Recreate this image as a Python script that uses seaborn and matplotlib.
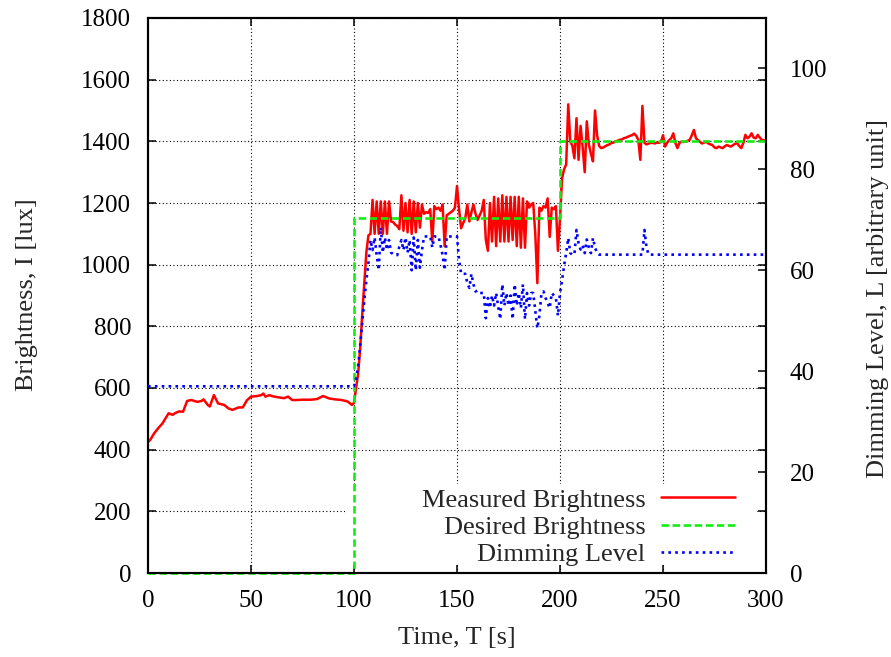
import matplotlib
matplotlib.use("Agg")
import matplotlib.pyplot as plt
from matplotlib.patches import Rectangle
import numpy as np
import pandas as pd
import seaborn as sns

# ---- measured brightness [lux] ----
t_meas_start = [0, 1, 3, 5, 7, 9, 10, 12, 13, 15, 17, 19, 21, 24, 26, 27, 29, 30,
                32, 34, 37, 39, 41, 44, 46, 48, 50, 53, 55, 56, 57, 59, 60, 63,
                66, 68, 70, 72, 75, 79, 82, 85, 88, 91, 94, 97, 99, 100]
meas_start = [425, 431, 453, 470, 485, 507, 518, 513, 518, 524, 523, 558, 561, 555,
              558, 563, 545, 540, 577, 550, 545, 534, 529, 537, 537, 560, 572, 574,
              577, 582, 572, 577, 574, 570, 567, 572, 561, 561, 562, 562, 564, 574,
              566, 563, 561, 556, 545, 552]
t_meas_ctrl = list(range(101, 301))
meas_ctrl = [
    600, 645, 730, 840, 940, 1040, 1095, 1100, 1210, 1100,
    1205, 1100, 1205, 1100, 1205, 1100, 1205, 1140, 1138, 1130,
    1125, 1115, 1225, 1110, 1200, 1105, 1210, 1100, 1205, 1105,
    1200, 1120, 1195, 1165, 1170, 1168, 1180, 1075, 1190, 1180,
    1185, 1175, 1195, 1060, 1160, 1165, 1170, 1175, 1185, 1255,
    1180, 1118, 1135, 1150, 1195, 1140, 1170, 1195, 1165, 1145,
    1160, 1175, 1210, 1080, 1045, 1200, 1075, 1220, 1060, 1215,
    1075, 1225, 1075, 1220, 1075, 1220, 1080, 1220, 1060, 1220,
    1055, 1215, 1055, 1205, 1185, 1195, 1200, 1100, 940, 1185,
    1175, 1190, 1185, 1215, 1090, 1185, 1180, 1190, 1045, 1150,
    1280, 1310, 1325, 1520, 1400, 1385, 1345, 1475, 1340, 1450,
    1380, 1300, 1465, 1390, 1360, 1335, 1500, 1420, 1385, 1378,
    1380, 1384, 1388, 1390, 1395, 1396, 1400, 1402, 1405, 1406,
    1410, 1412, 1415, 1418, 1420, 1425, 1418, 1405, 1340, 1515,
    1395, 1390, 1393, 1395, 1395, 1393, 1396, 1395, 1398, 1420,
    1383, 1395, 1404, 1410, 1426, 1395, 1378, 1395, 1399, 1398,
    1399, 1402, 1405, 1420, 1437, 1410, 1404, 1398, 1393, 1396,
    1399, 1393, 1390, 1388, 1380, 1378, 1383, 1380, 1378, 1384,
    1388, 1385, 1383, 1388, 1392, 1394, 1385, 1378, 1395, 1421,
    1410, 1415, 1426, 1412, 1410, 1421, 1412, 1404, 1404, 1400,
]
t_meas = t_meas_start + t_meas_ctrl
meas = meas_start + meas_ctrl

# ---- desired brightness set point [lux] ----
t_des = [0, 100, 100, 200, 200, 300]
des = [0, 0, 1150, 1150, 1400, 1400]

# ---- dimming level [arbitrary unit] ----
t_dim = [0, 100] + list(range(101, 220)) + [240, 241, 242, 243, 300]
dim = [
    37, 37,
    38.5, 41, 45, 49.6, 54, 58, 61.5, 66, 64, 66.5,
    63, 60, 68.5, 63.5, 66.5, 64, 66, 63.5, 63.2, 63.2,
    63.0, 64.7, 66, 64, 66.5, 63.5, 66, 60, 66.5, 60,
    66, 60.5, 64, 66.7, 66.7, 66.7, 66.7, 64.5, 66.7, 66.7,
    66.7, 65, 63, 60, 66.7, 66.7, 66.7, 66.7, 66.7, 66.7,
    62, 59.3, 59.3, 59.3, 57.5, 56.5, 59.3, 57.2, 55.8, 56,
    55.5, 55.5, 55.5, 50.5, 54.5, 52.5, 55, 53, 55.5, 52.8,
    50.3, 57.2, 53, 55.5, 53, 55, 50.3, 57.2, 53, 55.5,
    52.5, 57.2, 50.3, 55.5, 53, 55.5, 55.5, 52, 48.5, 51,
    55.5, 55.8, 54.5, 53.5, 52.5, 55.5, 55, 54.5, 51, 55.5,
    58, 61, 63.4, 66.4, 63.4, 63.1, 63.1, 68, 65.4, 64.1,
    64.9, 63.4, 66.1, 64.5, 63.4, 66.4, 64.5, 63.4, 63.1,
    63.1, 68, 64.5, 63.1, 63.1,
]

x_ticks = [0, 50, 100, 150, 200, 250, 300]
y_ticks = [0, 200, 400, 600, 800, 1000, 1200, 1400, 1600, 1800]
y2_ticks = [0, 20, 40, 60, 80, 100]

series_names = ["Measured Brightness", "Desired Brightness", "Dimming Level"]

df_meas = pd.DataFrame({"t": t_meas, "v": meas})
df_des = pd.DataFrame({"t": t_des, "v": des})
df_dim = pd.DataFrame({"t": t_dim, "v": dim})

sns.set_theme(style="white")
plt.rcParams["font.family"] = ["Liberation Serif", "DejaVu Serif"]
plt.rcParams["axes.edgecolor"] = "black"
plt.rcParams["axes.linewidth"] = 1.5

W, H = 891, 657
fig = plt.figure(figsize=(W / 100, H / 100), dpi=100)
fig.patch.set_facecolor("white")
ax = fig.add_axes([148 / W, 1 - 573 / H, (766 - 148) / W, (573 - 18) / H])
ax2 = ax.twinx()
ax.set_zorder(1)
ax2.set_zorder(2)
ax.patch.set_facecolor("white")
ax2.patch.set_visible(False)

sns.lineplot(data=df_meas, x="t", y="v", ax=ax, color="#ff0000", lw=1.8,
             estimator=None, sort=False, label=series_names[0], zorder=3)
sns.lineplot(data=df_des, x="t", y="v", ax=ax, color="#11ee11", lw=1.9,
             estimator=None, sort=False, label=series_names[1], zorder=4,
             clip_on=False)
ax.lines[-1].set_dashes((2.8, 1.4))
sns.lineplot(data=df_dim, x="t", y="v", ax=ax2, color="#0000ff", lw=1.9,
             estimator=None, sort=False, label=series_names[2], zorder=3)
ax2.lines[-1].set_dashes((1.0, 1.6))
for a in (ax, ax2):
    if a.get_legend() is not None:
        a.get_legend().remove()

ax.set_xlim(0, 300)
ax.set_ylim(0, 1800)
ax2.set_ylim(0, 110)
ax.set_xticks(x_ticks)
ax.set_yticks(y_ticks)
ax2.set_yticks(y2_ticks)
ax.set_xticklabels([str(v) for v in x_ticks])
ax.set_yticklabels([str(v) for v in y_ticks])
ax2.set_yticklabels([str(v) for v in y2_ticks])

ax.grid(True, color="black", lw=0.8, linestyle=(0, (1, 2.2)))
ax.set_axisbelow(True)

tick_len = 6
ax.tick_params(axis="both", direction="in", length=tick_len, width=1.1,
               colors="black", labelsize=18, top=True, right=True,
               bottom=True, left=True)
ax.tick_params(axis="y", pad=12)
ax.tick_params(axis="x", pad=12)
ax2.tick_params(axis="y", direction="in", length=tick_len, width=1.1,
                colors="black", labelsize=18, right=True, left=False, pad=17)
for s in ax2.spines.values():
    s.set_linewidth(1.5)
    s.set_color("black")

ax.set_xlabel("Time, T [s]", fontsize=19)
ax.set_ylabel("Brightness, I [lux]", fontsize=19)
ax2.set_ylabel("Dimming Level, L [arbitrary unit]", fontsize=19)
ax.xaxis.set_label_coords((457 - 148) / 618, (573 - 638) / 555)
ax.xaxis.label.set_va("center")
ax.yaxis.set_label_coords((27 - 148) / 618, (573 - 295) / 555)
ax.yaxis.label.set_va("center")
ax2.yaxis.set_label_coords((878 - 148) / 618, (573 - 298) / 555)
ax2.yaxis.label.set_va("center")

# white backdrop under the key: hides the grid there, lines stay on top
ax.add_patch(Rectangle(((345 - 148) / 618, 8 / 555), (757 - 345) / 618,
                       (565 - 484) / 555, transform=ax.transAxes,
                       facecolor="white", edgecolor="none", zorder=1))

handles = ax.get_lines()[:2] + ax2.get_lines()[:1]
leg = ax2.legend(handles, series_names, loc="lower right",
                 bbox_to_anchor=((735 - 148) / 618, (573 - 566) / 555),
                 frameon=False, markerfirst=False, fontsize=19,
                 handlelength=2.8, handletextpad=0.6, labelspacing=0.14,
                 borderpad=0.0, borderaxespad=0.0)
for col in leg._legend_handle_box.get_children():
    col.align = "right"

fig.savefig("out.png", dpi=100)
